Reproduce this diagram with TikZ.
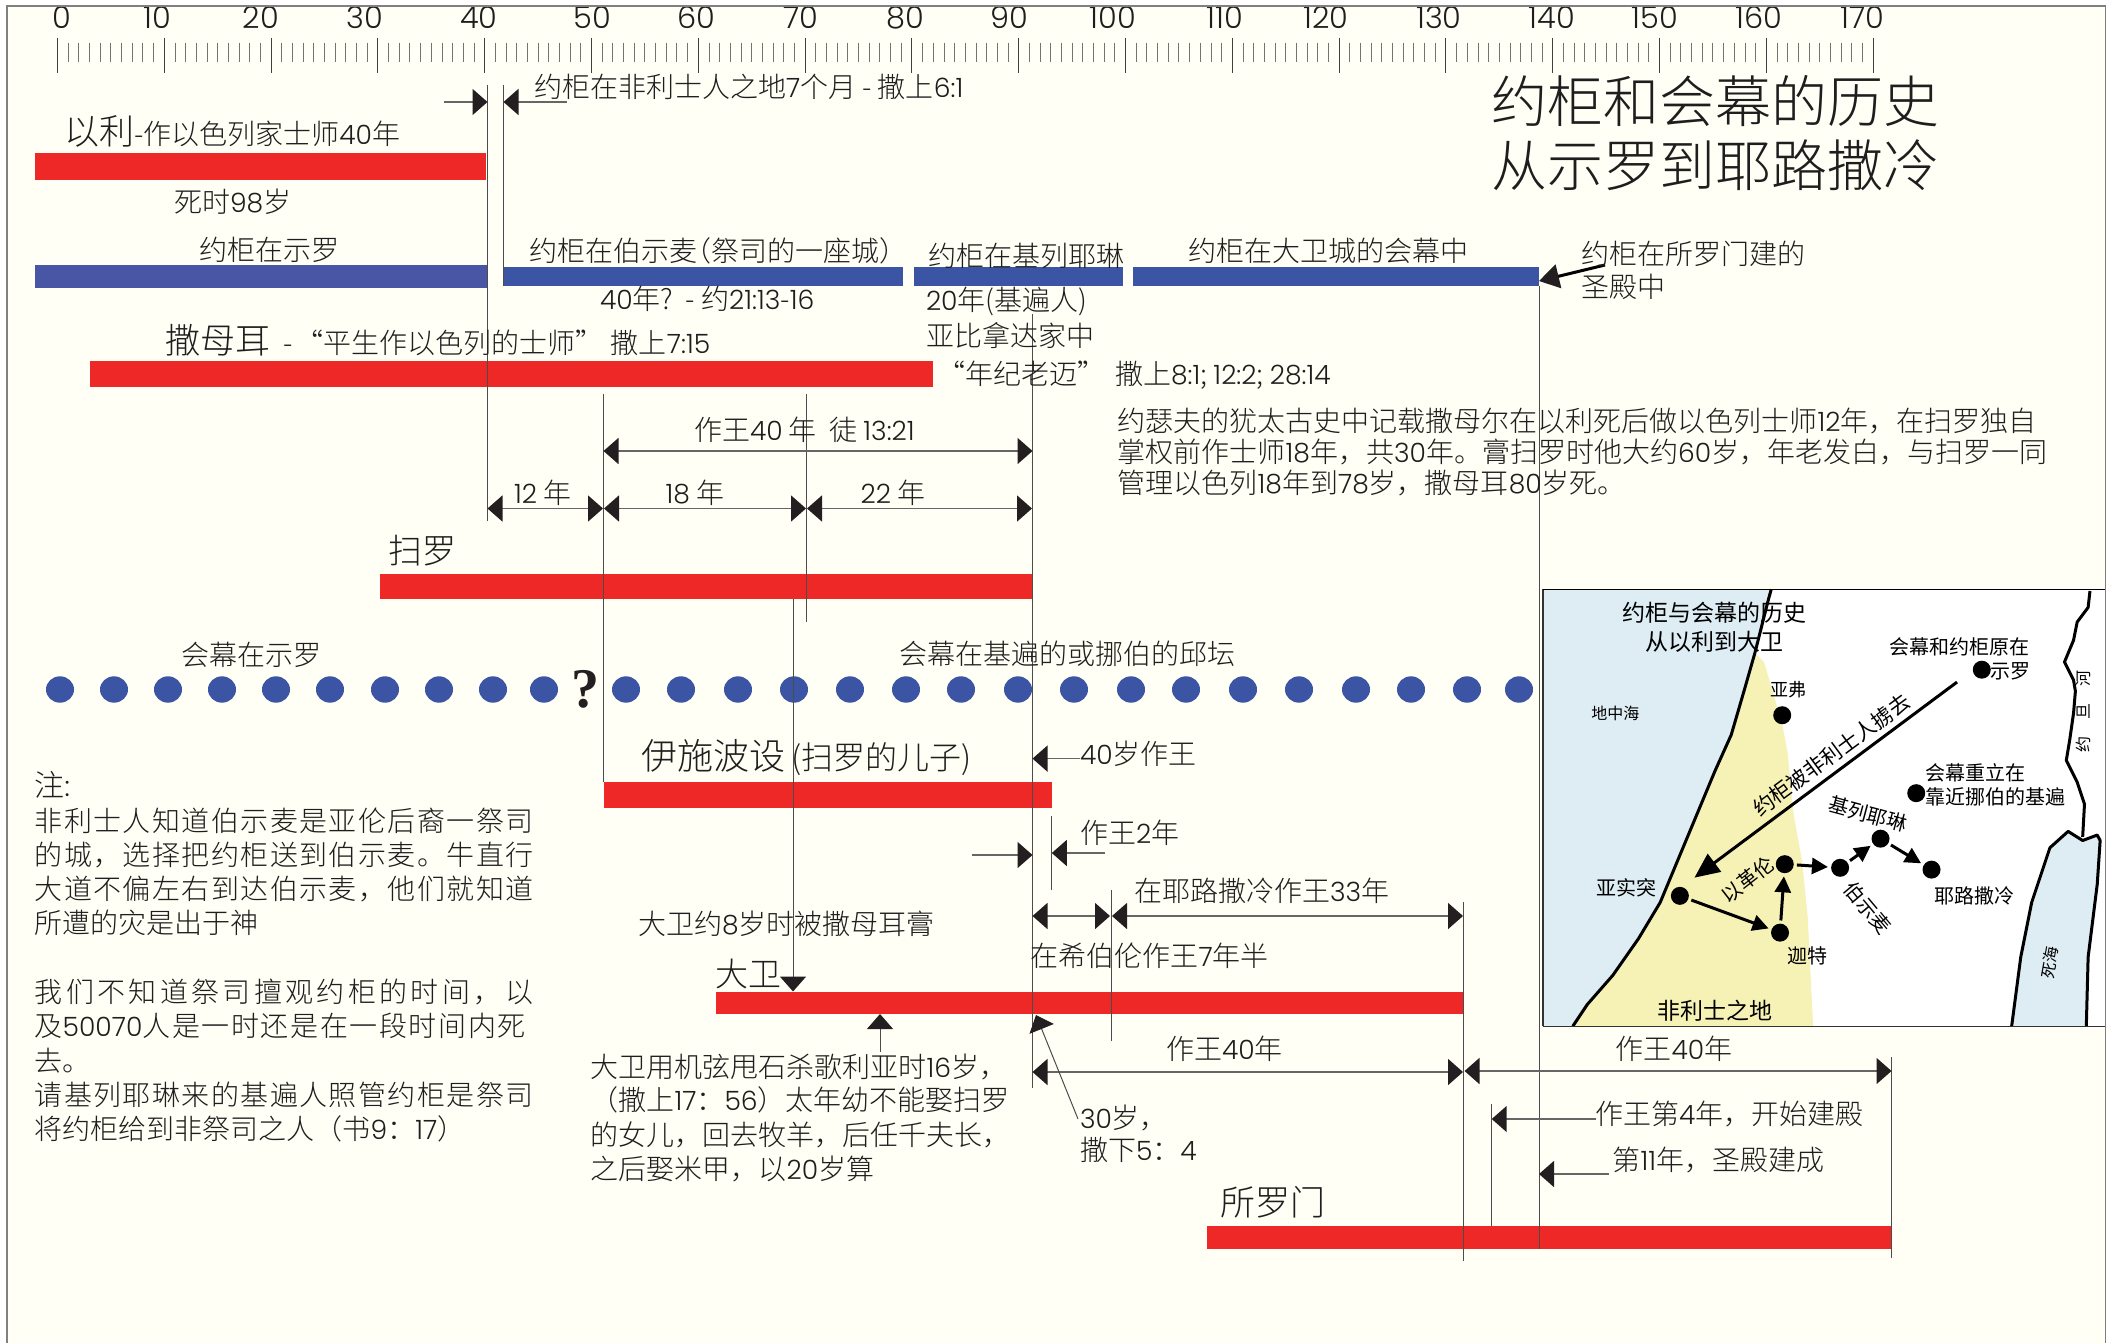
\documentclass[tikz,border=0pt]{standalone}
\usepackage{fontspec}
\setmainfont[UprightFont=* Light]{Noto Sans CJK SC}
\newfontfamily\mapfont{Noto Sans CJK SC}
\newfontfamily\qfont{Liberation Serif}
\newfontfamily\latfont[Scale=0.95,Numbers=Monospaced,UprightFont=* Light]{Poppins}
\XeTeXinterchartokenstate=1
\newXeTeXintercharclass\latcls
\XeTeXcharclass`0=\latcls \XeTeXcharclass`1=\latcls \XeTeXcharclass`2=\latcls
\XeTeXcharclass`3=\latcls \XeTeXcharclass`4=\latcls \XeTeXcharclass`5=\latcls
\XeTeXcharclass`6=\latcls \XeTeXcharclass`7=\latcls \XeTeXcharclass`8=\latcls
\XeTeXcharclass`9=\latcls \XeTeXcharclass`:=\latcls
\XeTeXinterchartoks 0 \latcls = {\begingroup\latfont}
\XeTeXinterchartoks 4095 \latcls = {\begingroup\latfont}
\XeTeXinterchartoks \latcls 0 = {\endgroup}
\XeTeXinterchartoks \latcls 4095 = {\endgroup}
\usetikzlibrary{arrows.meta}
\definecolor{paper}{HTML}{FFFFF6}
\definecolor{barred}{HTML}{EE2727}
\definecolor{barblue}{HTML}{3B54A3}
\definecolor{barblueb}{HTML}{4856A5}
\definecolor{ink}{HTML}{1E1E1E}
\definecolor{head}{HTML}{231F20}
\definecolor{seablue}{HTML}{DEEDF4}
\definecolor{sand}{HTML}{F6F2B6}
\newcommand\fsz[1]{\fontsize{#1pt}{#1pt}\selectfont}
\tikzset{
  x=1pt,y=-1pt,
  txt/.style={anchor=base west,inner sep=0pt,outer sep=0pt,font=\fsz{28},text=ink},
  rul/.style={anchor=center,inner sep=0pt,font=\fsz{32},text=ink},
  guide/.style={draw=black!70,line width=1pt},
  hd/.tip={Triangle[length=15pt,width=26pt,color=head,fill=head]},
  dimline/.style={draw=black!60,line width=1.6pt},
  bigarrow/.tip={Triangle[length=16pt,width=16pt,color=black,fill=black]},
  mapline/.style={draw=black,line width=3pt,line join=round},
  maparrow/.style={draw=black,line width=3pt,-{bigarrow},shorten <=3pt,shorten >=3pt},
  mapdot/.style={circle,fill=black,inner sep=0pt,minimum size=18pt},
  maptxt/.style={anchor=center,inner sep=0pt,text=black,font=\mapfont\fsz{20}},
  redbar/.style={fill=barred},
  bluebar/.style={fill=barblue},
}
\begin{document}
\begin{tikzpicture}
\useasboundingbox (0,0) rectangle (2111,1343);
\fill[white] (0,0) rectangle (2111,1343);
\fill[paper] (7,6) rectangle (2105.5,1343);

% guide positions
\coordinate (vA) at (487.5,0);\coordinate (vB) at (503.5,0);\coordinate (vC) at (603.5,0);
\coordinate (vD) at (806.5,0);\coordinate (vE) at (793,0);\coordinate (vF) at (1032.5,0);
\coordinate (vG) at (1051.8,0);\coordinate (vH) at (1111,0);\coordinate (vI) at (1463,0);
\coordinate (vJ) at (1491.7,0);\coordinate (vK) at (1539,0);\coordinate (vL) at (1891.5,0);

% ruler
\foreach \i in {0,...,170}{
  \pgfmathsetmacro\xx{57.5+10.68*\i}
  \draw[black!55,line width=.9pt] (\xx,43) -- (\xx,62);
}
\foreach \i in {0,...,17}{
  \pgfmathsetmacro\xx{57.5+106.8*\i}
  \draw[black!75,line width=1pt] (\xx,38) -- (\xx,73);
}
\foreach \l/\xx in {0/62,10/157.5,20/261,30/365,40/479,50/592,60/696,70/801,80/905,90/1009,100/1113,110/1225,120/1326,130/1439,140/1552,150/1655,160/1759,170/1862}
  \node[rul] (r\l) at (\xx,17.5) {\l};

% bars
\fill[redbar] (34.5,153) rectangle (486,180);
\fill[fill=barblueb] (34.5,265) rectangle (487.5,288);
\fill[bluebar] (503,267) rectangle (903,286);
\fill[bluebar] (914,267) rectangle (1123,286);
\fill[bluebar] (1132.5,267) rectangle (1539,286);
\fill[redbar] (90,361) rectangle (933,387);
\fill[redbar] (380,573.5) rectangle (1032.5,599);
\fill[redbar] (603.5,781.5) rectangle (1051.7,807.5);
\fill[redbar] (716,991.5) rectangle (1463,1014);
\fill[redbar] (1206.7,1226) rectangle (1891.5,1249);

% tabernacle dots
\foreach \xx in {60,114,168,222,276,330,385,439,493,544,626,681,738,794,850,906,961,1018,1074,1131,1186,1243,1299,1356,1411,1467,1519}
  \fill[barblue] (\xx,689.5) ellipse (14 and 13.2);
\node[inner sep=0pt,font=\qfont\bfseries\fsz{56},text=head] (qm) at (585,689) {?};

% vertical guides
\draw[guide] (vA |- 0,85) -- (vA |- 0,520.7);
\draw[guide] (vB |- 0,85) -- (vB |- 0,286);
\draw[guide] (vC |- 0,394) -- (vC |- 0,781.5);
\draw[guide] (vD |- 0,394) -- (vD |- 0,621.7);
\draw[guide] (vE |- 0,599) -- (vE |- 0,978);
\draw[guide] (vF |- 0,314) -- (vF |- 0,1088);
\draw[guide] (vG |- 0,816) -- (vG |- 0,890);
\draw[guide] (vH |- 0,890) -- (vH |- 0,1041);
\draw[guide] (vI |- 0,902) -- (vI |- 0,1261);
\draw[guide] (vJ |- 0,1104) -- (vJ |- 0,1226);
\draw[guide] (vK |- 0,286) -- (vK |- 0,1249);
\draw[guide] (vL |- 0,1057) -- (vL |- 0,1258);

% arrows: Ark in Philistia
\coordinate (pa) at (443.5,102);\coordinate (pb) at (566.6,102);
\draw[dimline,-{hd}] (pa) -- (vA |- pa);
\draw[dimline,-{hd}] (pb) -- (vB |- pb);
% Saul and Samuel spans
\draw[dimline,{hd}-{hd}] (vC |- 0,451) -- (vF |- 0,451);
\draw[dimline,{hd}-{hd}] (vA |- 0,508.5) -- ([xshift=-.5pt]vC |- 0,508.5);
\draw[dimline,{hd}-{hd}] ([xshift=.5pt]vC |- 0,508.5) -- ([xshift=-.5pt]vD |- 0,508.5);
\draw[dimline,{hd}-{hd}] ([xshift=.5pt]vD |- 0,508.5) -- ([xshift=-.5pt]vF |- 0,508.5);
% Ishbosheth
\coordinate (ia) at (972,855);\coordinate (ib) at (1105,853);
\draw[dimline,-{hd}] (ia) -- (vF |- ia);
\draw[dimline,-{hd}] (ib) -- (vG |- ib);
% David
\draw[dimline,{hd}-{hd}] (vF |- 0,916) -- ([xshift=-1pt]vH |- 0,916);
\draw[dimline,{hd}-{hd}] ([xshift=1pt]vH |- 0,916) -- (vI |- 0,916);
\draw[dimline,{hd}-{hd}] (vF |- 0,1072) -- (vI |- 0,1072);
\draw[dimline,{hd}-{hd}] ([xshift=1.5pt]vI |- 0,1071) -- (vL |- 0,1071);
\path (vE |- 0,978) coordinate (ds);
\draw[dimline,-{hd}] (ds) -- (vE |- 0,991.5);
\coordinate (ga) at (880,1052);\coordinate (gb) at (880,1014);
\draw[guide,-{hd}] (ga) -- (gb);
\coordinate (tha) at (1078,1119);\coordinate (thb) at (1036,1015);
\draw[guide,-{hd}] (tha) -- (thb);
% temple
\coordinate (sa) at (1596,1119);\coordinate (sb) at (1608.5,1174);
\draw[dimline,-{hd}] (sa) -- (vJ |- sa);
\draw[dimline,-{hd}] (sb) -- (vK |- sb);
\coordinate (ka) at (1605,265);\coordinate (kb) at (1539,281);
\draw[draw=black,line width=3pt,-{Triangle[length=20pt,width=24pt,color=head,fill=head]}] (ka) -- (kb);

% title
\node[txt,font=\fsz{56}] (title1) at (1491,123) {约柜和会幕的历史};
\node[txt,font=\fsz{56}] (title2) at (1491,187) {从示罗到耶路撒冷};

% top texts
\node[txt] (phil) at (534,98) {约柜在非利士人之地7个月 - 撒上6:1};
\node[txt] (eli) at (64,145) {{\fsz{35}以利}-作以色列家士师40年};
\node[txt] (eli2) at (174,212) {死时98岁};
\node[txt] (ark1) at (199.5,260) {约柜在示罗};
\node[txt] (ark2) at (529,261) {约柜在伯示麦\hspace{-.5em}（祭司的一座城）};
\node[txt] (ark2b) at (600,309) {40年?\ \ - 约21:13-16};
\node[txt] (ark3) at (928,266) {约柜在基列耶琳};
\node[txt] (ark3b) at (926,310) {20年(基遍人)};
\node[txt] (ark3c) at (926,346) {亚比拿达家中};
\node[txt] (ark4) at (1188.7,261) {约柜在大卫城的会幕中};
\node[txt] (ark5) at (1581,264) {约柜在所罗门建的};
\node[txt] (ark5b) at (1581,297) {圣殿中};
\node[txt] (sam) at (165.6,353) {{\fsz{35}撒母耳}\hspace{13pt}-\hspace{3pt}“平生作以色列的士师”\hspace{7pt}撒上7:15};
\node[txt] (sam2) at (937,384) {“年纪老迈”\hspace{10pt}撒上8:1; 12:2; 28:14};
\node[txt] (jos1) at (1117.7,431.5) {约瑟夫的犹太古史中记载撒母尔在以利死后做以色列士师12年，在扫罗独自};
\node[txt] (jos2) at (1117.7,462.5) {掌权前作士师18年，共30年。膏扫罗时他大约60岁，年老发白，与扫罗一同};
\node[txt] (jos3) at (1117.7,493.5) {管理以色列18年到78岁，撒母耳80岁死。};
\node[txt] (y40) at (694,440) {作王40 年\ \ 徒 13:21};
\node[txt] (y12) at (514,503) {12 年};
\node[txt] (y18) at (665.6,503) {18 年};
\node[txt] (y22) at (860.6,503) {22 年};
\node[txt,font=\fsz{34}] (saul) at (388,563) {扫罗};
\node[txt] (tab1) at (181,665) {会幕在示罗};
\node[txt] (tab2) at (899,664) {会幕在基遍的或挪伯的邱坛};

% left notes
\node[txt,font=\fsz{30}] (n0) at (34.7,796) {注:};
\node[txt] (n1) at (34.7,831.5) {\addfontfeature{LetterSpace=5.1}非利士人知道伯示麦是亚伦后裔一祭司};
\node[txt] (n2) at (34.7,865.5) {\addfontfeature{LetterSpace=5.1}的城，选择把约柜送到伯示麦。牛直行};
\node[txt] (n3) at (34.7,899) {\addfontfeature{LetterSpace=5.1}大道不偏左右到达伯示麦，他们就知道};
\node[txt] (n4) at (34.7,933.5) {所遭的灾是出于神};
\node[txt] (n5) at (34.7,1002.5) {\addfontfeature{LetterSpace=12}我们不知道祭司擅观约柜的时间，以};
\node[txt] (n6) at (34.7,1036) {\addfontfeature{LetterSpace=5.7}及50070人是一时还是在一段时间内死};
\node[txt] (n7) at (34.7,1071.5) {去。};
\node[txt] (n8) at (34.7,1105.5) {\addfontfeature{LetterSpace=5.1}请基列耶琳来的基遍人照管约柜是祭司};
\node[txt] (n9) at (34.7,1139.5) {将约柜给到非祭司之人（书9：17）};

% kings' labels
\node[txt] (ish) at (641.6,769) {{\fsz{36}伊施波设} {\fsz{32}(扫罗的儿子)}};
\node[txt] (i40) at (1080,764) {40岁作王};
\draw[dimline,-{hd}] (i40.base west |- 0,758.6) -- (vF |- 0,758.6);
\node[txt] (i2) at (1080,843) {作王2年};
\node[txt] (d33) at (1134,901) {在耶路撒冷作王33年};
\node[txt] (d7) at (1030.7,966) {在希伯伦作王7年半};
\node[txt] (d8) at (638,934) {大卫约8岁时被撒母耳膏};
\node[txt,font=\fsz{33}] (dav) at (715,986) {大卫};
\node[txt] (d40) at (1166,1059) {作王40年};
\node[txt] (s40) at (1615.5,1059) {作王40年};
\node[txt] (dp1) at (590.6,1077) {大卫用机弦甩石杀歌利亚时16岁，};
\node[txt] (dp2) at (590.6,1110.6) {（撒上17：56）太年幼不能娶扫罗};
\node[txt] (dp3) at (590.6,1145.6) {的女儿，回去牧羊，后任千夫长，};
\node[txt] (dp4) at (590.6,1179.6) {之后娶米甲，以20岁算};
\node[txt] (th1) at (1080,1128) {30岁，};
\node[txt] (th2) at (1080,1160) {撒下5：4};
\node[txt,font=\fsz{35}] (sol) at (1220,1215) {所罗门};
\node[txt] (s4) at (1595,1124) {作王第4年，开始建殿};
\node[txt] (s11) at (1612.5,1170) {第11年，圣殿建成};

% map
\begin{scope}[shift={(1540,520)},x=0.3642pt,y=-0.3642pt]
\fill[white] (8,190) rectangle (1553,1390);
\fill[seablue] (8,190) -- (635,190) -- (628,215) -- (590,365) -- (560,470) -- (525,590) -- (480,690) -- (430,810) -- (380,930) -- (330,1050) -- (270,1150) -- (200,1250) -- (130,1330) -- (90,1390) -- (8,1390) -- cycle;
\fill[sand] (590,365) -- (615,390) -- (665,560) -- (680,640) -- (695,800) -- (720,940) -- (735,1090) -- (750,1390) -- (90,1390) -- (130,1330) -- (200,1250) -- (270,1150) -- (330,1050) -- (380,930) -- (430,810) -- (480,690) -- (525,590) -- (560,470) -- cycle;
\fill[seablue] (1450,855) -- (1490,880) -- (1530,865) -- (1538,880) -- (1530,1000) -- (1505,1200) -- (1500,1390) -- (1295,1390) -- (1320,1200) -- (1350,1050) -- (1400,900) -- cycle;
\draw[mapline] (635,190) -- (628,215) -- (590,365) -- (560,470) -- (525,590) -- (480,690) -- (430,810) -- (380,930) -- (330,1050) -- (270,1150) -- (200,1250) -- (130,1330) -- (90,1390);
\draw[mapline] (1510,195) -- (1505,240) -- (1475,280) -- (1465,330) -- (1440,390) -- (1465,440) -- (1470,470) -- (1465,530) -- (1455,600) -- (1445,660) -- (1475,720) -- (1495,780) -- (1490,870);
\draw[mapline] (1295,1390) -- (1320,1200) -- (1350,1050) -- (1400,900) -- (1450,855) -- (1490,880) -- (1530,865) -- (1538,880) -- (1530,1000) -- (1505,1200) -- (1500,1390);
\draw[black!80,line width=1.2pt] (8,1390) -- (8,190);
\draw[black,line width=1.2pt] (8,190) -- (1553,190);
\draw[black!80,line width=1.2pt] (8,1390) -- (1553,1390);
\node[mapdot] (aphek) at (665,536) {};
\node[mapdot] (shiloh) at (1213,411) {};
\node[mapdot] (gibeon) at (1033,750) {};
\node[mapdot] (kj) at (935,875) {};
\node[mapdot] (jer) at (1075,960) {};
\node[mapdot] (bs) at (824,955) {};
\node[mapdot] (ekron) at (672,945) {};
\node[mapdot] (ashdod) at (384,1032) {};
\node[mapdot] (gath) at (659,1133) {};
\coordinate (capt) at (1145,445);
\draw[draw=black,line width=3pt,-{Triangle[length=25pt,width=22pt,color=black,fill=black]}] (capt) -- ([shift={(40,-50)}]ashdod.center);
\draw[maparrow] (ashdod) -- (gath);
\draw[maparrow] (gath) -- (ekron);
\draw[maparrow] (ekron) -- (bs);
\draw[maparrow] (bs) -- (kj);
\draw[maparrow] (kj) -- (jer);
\node[maptxt,font=\mapfont\fsz{23}] (m1) at (480,255) {约柜与会幕的历史};
\node[maptxt,font=\mapfont\fsz{23}] (m2) at (480,335) {从以利到大卫};
\node[maptxt,font=\mapfont\fsz{16}] (m3) at (207,530) {地中海};
\node[maptxt,font=\mapfont\fsz{18}] (m4) at (683,465) {亚弗};
\node[maptxt] (m5) at (1153,348) {会幕和约柜原在};
\node[maptxt] (m6) at (1292,415) {示罗};
\node[maptxt,font=\mapfont\fsz{21},rotate=36.4] (m7) at (800,645) {约柜被非利士人掳去};
\node[maptxt] (m8) at (1197,693) {会幕重立在};
\node[maptxt] (m9) at (1250,760) {靠近挪伯的基遍};
\node[maptxt,rotate=-15] (m10) at (900,807) {基列耶琳};
\node[maptxt] (m11) at (238,1010) {亚实突};
\node[maptxt,rotate=38] (m12) at (570,988) {以革伦};
\node[maptxt,rotate=-50] (m13) at (900,1065) {伯示麦};
\node[maptxt] (m14) at (1193,1033) {耶路撒冷};
\node[maptxt] (m15) at (735,1198) {迦特};
\node[maptxt,font=\mapfont\fsz{23}] (m16) at (480,1347) {非利士之地};
\node[maptxt,font=\mapfont\fsz{16},rotate=80] (m17) at (1400,1215) {死海};
\node[maptxt,font=\mapfont\fsz{16},rotate=90] (m18) at (1493,525) {约\hspace{17pt}旦\hspace{17pt}河};
\end{scope}
\draw[black!50,line width=1.5pt] (7,1343) -- (7,6) -- (2105.5,6) -- (2105.5,1343);
\end{tikzpicture}
\end{document}
